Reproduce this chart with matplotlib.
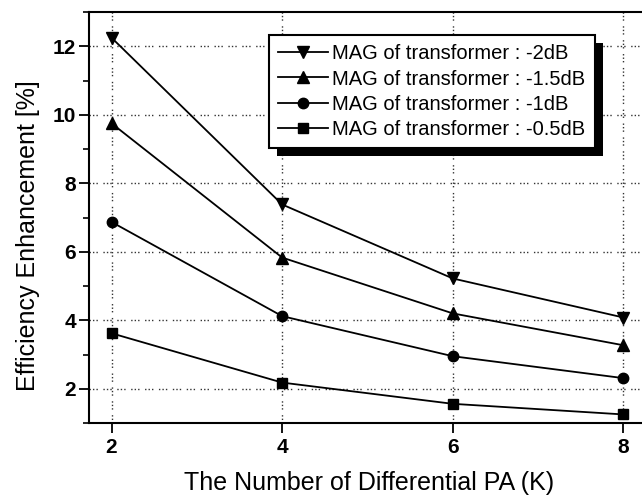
import matplotlib
matplotlib.use("Agg")
import matplotlib.pyplot as plt
from matplotlib.patches import Rectangle
from matplotlib.transforms import IdentityTransform

K = [2, 4, 6, 8]
labels = ["MAG of transformer : -2dB", "MAG of transformer : -1.5dB",
          "MAG of transformer : -1dB", "MAG of transformer : -0.5dB"]
eff_2dB = [12.25, 7.38, 5.22, 4.08]
eff_15dB = [9.75, 5.83, 4.20, 3.27]
eff_1dB = [6.87, 4.12, 2.95, 2.31]
eff_05dB = [3.62, 2.18, 1.56, 1.25]
series = [eff_2dB, eff_15dB, eff_1dB, eff_05dB]
markers = ["v", "^", "o", "s"]
msizes = [8.5, 8.5, 7.5, 7.0]
yticks = [2, 4, 6, 8, 10, 12]

plt.rcParams['font.family'] = ['Liberation Sans', 'DejaVu Sans']

fig = plt.figure(figsize=(6.42, 4.96), dpi=100)
ax = fig.add_axes([89/642, 1 - 423/496, 560/642, 411/496])

for vals, m, ms, lab in zip(series, markers, msizes, labels):
    ax.plot(K, vals, color='black', lw=1.3, marker=m, markersize=ms,
            markerfacecolor='black', markeredgecolor='black', label=lab, zorder=3)

ax.set_xlim(1.736, 8.3)
ax.set_ylim(1.0, 13.0)
ax.set_xticks(K)
ax.set_yticks(yticks)
ax.set_yticks(range(1, 14, 2), minor=True)
ax.tick_params(axis='both', which='major', direction='out', length=7, width=1.3,
               labelsize=15, pad=2.5)
ax.tick_params(axis='x', which='major', pad=4)
ax.tick_params(axis='y', which='minor', direction='out', length=4, width=1.2)
for t in ax.get_xticklabels() + ax.get_yticklabels():
    t.set_fontweight('bold')

ax.grid(True, which='major', color='#333333', linestyle=(0, (1, 1.5, 1, 1.5, 1, 4)),
        linewidth=1.0)
ax.set_axisbelow(True)

for s in ['left', 'bottom', 'top']:
    ax.spines[s].set_linewidth(1.5)
ax.spines['right'].set_visible(False)

ax.set_xlabel("The Number of Differential PA (K)", fontsize=18)
ax.xaxis.set_label_coords(0.5, -0.117)
ax.set_ylabel("Efficiency Enhancement [%]", fontsize=18)
ax.yaxis.set_label_coords(-0.088, 0.455)

leg = ax.legend(loc='upper left', bbox_to_anchor=((269-89)/560, 1 - (35-12)/411),
                fontsize=14.5, frameon=True, fancybox=False, handlelength=2.5,
                handletextpad=0.2, borderpad=0.45, labelspacing=0.32,
                borderaxespad=0, markerscale=1.0, framealpha=1)
leg.get_frame().set_edgecolor('black')
leg.get_frame().set_facecolor('white')
leg.get_frame().set_linewidth(1.5)
leg.set_zorder(6)

fig.canvas.draw()
bb = leg.get_window_extent()
shadow = Rectangle((bb.x0 + 8, bb.y0 - 8), bb.width, bb.height,
                   transform=IdentityTransform(), facecolor='black',
                   edgecolor='none', zorder=5.5, clip_on=False)
ax.add_artist(shadow)

fig.savefig("out.png", dpi=100)
